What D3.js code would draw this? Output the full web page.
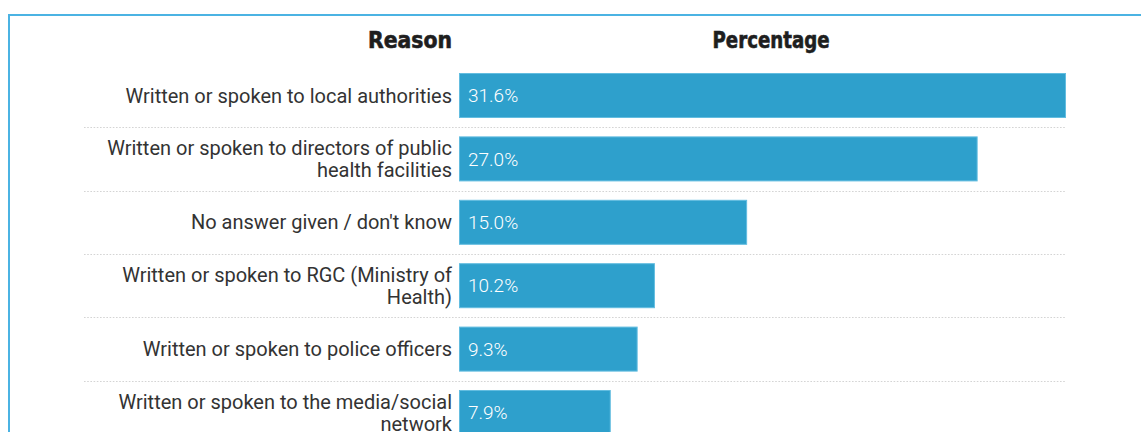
<!DOCTYPE html>
<html>
<head>
<meta charset="utf-8">
<script src="https://cdn.jsdelivr.net/npm/d3@7"></script>
<style>
  html, body { margin: 0; padding: 0; background: #fff; }
  svg { display: block; }
  .cat { font-family: Roboto, "Noto Sans", sans-serif; font-size: 20px; fill: #333; }
  .val { font-family: Roboto, "Noto Sans", sans-serif; font-size: 19px; font-weight: 300; fill: #fff; }
  .head { font-family: "Liberation Sans Narrow", "DejaVu Sans Condensed", sans-serif; font-stretch: condensed; font-weight: 700; font-size: 23px; fill: #1e1e1e; stroke: #1e1e1e; stroke-width: 0.6px; }
</style>
</head>
<body>
<svg id="chart" width="1141" height="432"></svg>
<script>
// Survey: to whom complaints were raised
const reasons = [
  "Written or spoken to local authorities",
  "Written or spoken to directors of public health facilities",
  "No answer given / don't know",
  "Written or spoken to RGC (Ministry of Health)",
  "Written or spoken to police officers",
  "Written or spoken to the media/social network"
];
const percentages = [31.6, 27.0, 15.0, 10.2, 9.3, 7.9];
const headers = ["Reason", "Percentage"];

const svg = d3.select("#chart");
const W = 1141, H = 432;

// frame: top and left edges visible
svg.append("rect")
  .attr("x", 9).attr("y", 15)
  .attr("width", W + 20).attr("height", H + 20)
  .attr("fill", "none")
  .attr("stroke", "#4bb3e3")
  .attr("stroke-width", 2);

const barLeft = 459, barRight = 1066;
const x = d3.scaleLinear().domain([0, d3.max(percentages)]).range([barLeft, barRight]);

const step = 63.4;
const y = d3.scaleBand()
  .domain(reasons)
  .range([63.8, 63.8 + step * reasons.length])
  .paddingInner(0.29)
  .paddingOuter(0.145);

const rows = reasons.map((r, i) => ({ reason: r, value: percentages[i] }));

// headers
svg.append("text").attr("class", "head")
  .attr("x", 452).attr("y", 48).attr("text-anchor", "end")
  .attr("textLength", 84).attr("lengthAdjust", "spacingAndGlyphs")
  .text(headers[0]);
svg.append("text").attr("class", "head")
  .attr("x", 771).attr("y", 48).attr("text-anchor", "middle")
  .attr("textLength", 117).attr("lengthAdjust", "spacingAndGlyphs")
  .text(headers[1]);

// dotted separators between rows
const gapHalf = (y.step() - y.bandwidth()) / 2;
svg.append("g").selectAll("line")
  .data(rows.slice(0, -1))
  .join("line")
  .attr("x1", 84).attr("x2", barRight)
  .attr("y1", d => Math.round(y(d.reason) + y.bandwidth() + gapHalf) + 0.5)
  .attr("y2", d => Math.round(y(d.reason) + y.bandwidth() + gapHalf) + 0.5)
  .attr("stroke", "#d4d4d4")
  .attr("stroke-width", 1)
  .attr("stroke-dasharray", "1.6,1.6");

// bars
svg.append("g").selectAll("rect")
  .data(rows)
  .join("rect")
  .attr("x", x(0) + 0.5)
  .attr("y", d => y(d.reason) + 0.5)
  .attr("width", d => x(d.value) - x(0) - 1)
  .attr("height", y.bandwidth() - 1)
  .attr("fill", "#2ea0cc")
  .attr("stroke", "#63bde0")
  .attr("stroke-width", 1);

// value labels inside bars
svg.append("g").selectAll("text")
  .data(rows)
  .join("text")
  .attr("class", "val")
  .attr("x", x(0) + 9)
  .attr("y", d => y(d.reason) + y.bandwidth() / 2)
  .attr("dy", "0.35em")
  .text(d => d.value.toFixed(1) + "%");

// category labels, wrapped to fit the label column
const maxLabel = 350, lineH = 22;
const labels = svg.append("g").selectAll("text")
  .data(rows)
  .join("text")
  .attr("class", "cat")
  .attr("text-anchor", "end")
  .attr("x", 452);

labels.each(function(d) {
  const t = d3.select(this);
  const words = d.reason.split(" ");
  const lines = [];
  let cur = [];
  const probe = t.append("tspan");
  words.forEach(w => {
    const trial = cur.concat(w).join(" ");
    probe.text(trial);
    if (cur.length && probe.node().getComputedTextLength() > maxLabel) {
      lines.push(cur.join(" "));
      cur = [w];
    } else {
      cur.push(w);
    }
  });
  lines.push(cur.join(" "));
  probe.remove();
  const cy = y(d.reason) + y.bandwidth() / 2;
  const top = cy - (lines.length - 1) * lineH / 2;
  lines.forEach((ln, i) => {
    t.append("tspan")
      .attr("x", 452)
      .attr("y", top + i * lineH)
      .attr("dy", "0.35em")
      .text(ln);
  });
});
</script>
</body>
</html>
